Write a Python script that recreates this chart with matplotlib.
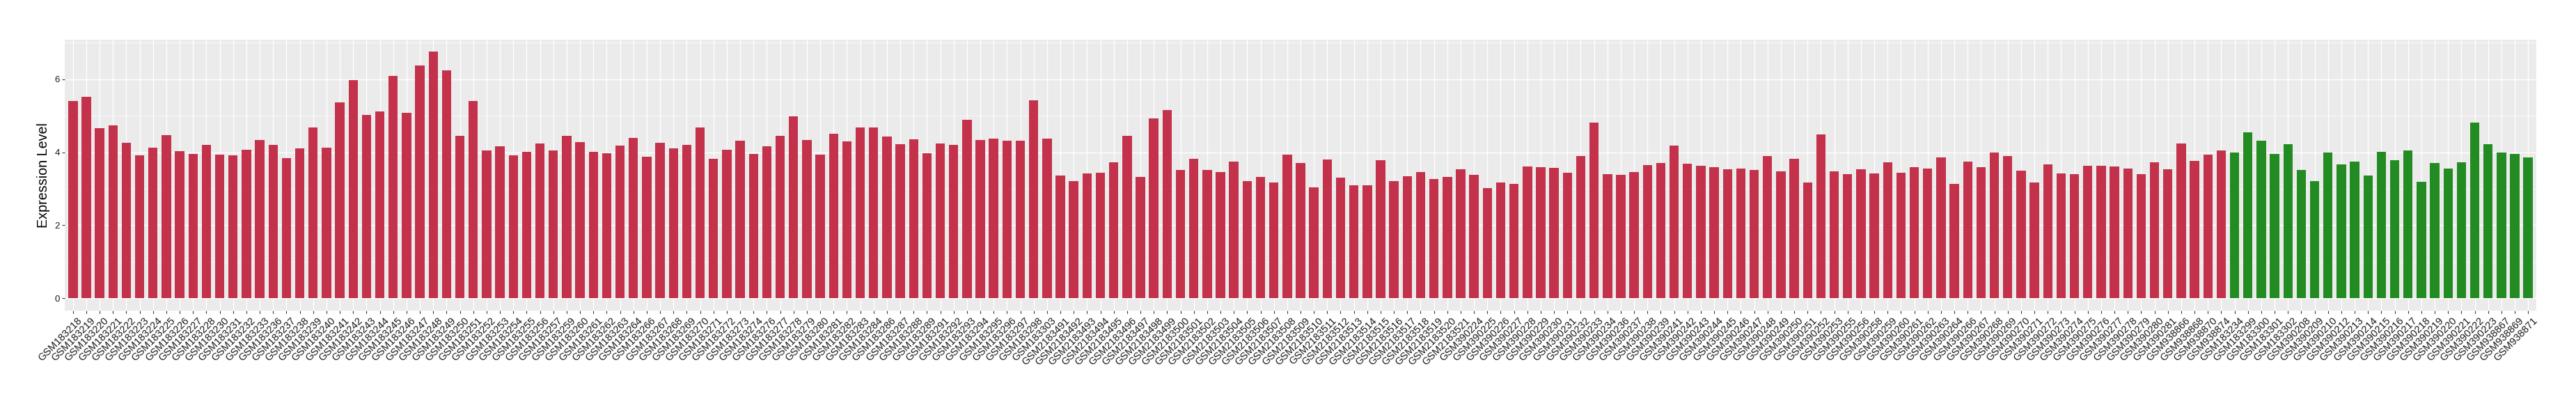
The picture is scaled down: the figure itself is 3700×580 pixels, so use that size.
import matplotlib
matplotlib.use("Agg")
import matplotlib.pyplot as plt
from matplotlib.ticker import MultipleLocator
from matplotlib.transforms import ScaledTranslation

# tumour samples (red) then normal samples (green), in plot order
tumor_ids = [
    "GSM183218", "GSM183219", "GSM183220", "GSM183221", "GSM183222", "GSM183223",
    "GSM183224", "GSM183225", "GSM183226", "GSM183227", "GSM183228", "GSM183230",
    "GSM183231", "GSM183232", "GSM183233", "GSM183236", "GSM183237", "GSM183238",
    "GSM183239", "GSM183240", "GSM183241", "GSM183242", "GSM183243", "GSM183244",
    "GSM183245", "GSM183246", "GSM183247", "GSM183248", "GSM183249", "GSM183250",
    "GSM183251", "GSM183252", "GSM183253", "GSM183254", "GSM183255", "GSM183256",
    "GSM183257", "GSM183259", "GSM183260", "GSM183261", "GSM183262", "GSM183263",
    "GSM183264", "GSM183266", "GSM183267", "GSM183268", "GSM183269", "GSM183270",
    "GSM183271", "GSM183272", "GSM183273", "GSM183274", "GSM183276", "GSM183277",
    "GSM183278", "GSM183279", "GSM183280", "GSM183281", "GSM183282", "GSM183283",
    "GSM183284", "GSM183286", "GSM183287", "GSM183288", "GSM183289", "GSM183291",
    "GSM183292", "GSM183293", "GSM183294", "GSM183295", "GSM183296", "GSM183297",
    "GSM183298", "GSM183303",
    "GSM2183491", "GSM2183492", "GSM2183493", "GSM2183494", "GSM2183495", "GSM2183496",
    "GSM2183497", "GSM2183498", "GSM2183499", "GSM2183500", "GSM2183501", "GSM2183502",
    "GSM2183503", "GSM2183504", "GSM2183505", "GSM2183506", "GSM2183507", "GSM2183508",
    "GSM2183509", "GSM2183510", "GSM2183511", "GSM2183512", "GSM2183513", "GSM2183514",
    "GSM2183515", "GSM2183516", "GSM2183517", "GSM2183518", "GSM2183519", "GSM2183520",
    "GSM2183521",
    "GSM390224", "GSM390225", "GSM390226", "GSM390227", "GSM390228", "GSM390229",
    "GSM390230", "GSM390231", "GSM390232", "GSM390233", "GSM390234", "GSM390236",
    "GSM390237", "GSM390238", "GSM390239", "GSM390241", "GSM390242", "GSM390243",
    "GSM390244", "GSM390245", "GSM390246", "GSM390247", "GSM390248", "GSM390249",
    "GSM390250", "GSM390251", "GSM390252", "GSM390253", "GSM390255", "GSM390256",
    "GSM390258", "GSM390259", "GSM390260", "GSM390261", "GSM390262", "GSM390263",
    "GSM390264", "GSM390266", "GSM390267", "GSM390268", "GSM390269", "GSM390270",
    "GSM390271", "GSM390272", "GSM390273", "GSM390274", "GSM390275", "GSM390276",
    "GSM390277", "GSM390278", "GSM390279", "GSM390280", "GSM390281",
    "GSM938866", "GSM938868", "GSM938870", "GSM938874",
]
tumor_expr = [
    5.40, 5.51, 4.66, 4.73, 4.26, 3.91, 4.12, 4.47, 4.03, 3.95, 4.20, 3.93,
    3.91, 4.07, 4.33, 4.20, 3.84, 4.10, 4.68, 4.12, 5.36, 5.97, 5.02, 5.11,
    6.09, 5.08, 6.37, 6.75, 6.24, 4.45, 5.40, 4.05, 4.16, 3.91, 4.01, 4.24,
    4.05, 4.45, 4.28, 4.01, 3.97, 4.18, 4.39, 3.88, 4.26, 4.10, 4.20, 4.68,
    3.82, 4.07, 4.31, 3.95, 4.16, 4.45, 4.98, 4.33, 3.93, 4.50, 4.30, 4.68,
    4.68, 4.43, 4.22, 4.35, 3.97, 4.24, 4.20, 4.89, 4.33, 4.37, 4.31, 4.31,
    5.42, 4.37,
    3.36, 3.21, 3.42, 3.44, 3.72, 4.45, 3.32, 4.92, 5.15, 3.51, 3.82, 3.51,
    3.46, 3.74, 3.21, 3.32, 3.17, 3.93, 3.70, 3.04, 3.80, 3.30, 3.10, 3.10,
    3.78, 3.21, 3.34, 3.46, 3.27, 3.32, 3.53,
    3.38, 3.02, 3.17, 3.13, 3.61, 3.59, 3.57, 3.44, 3.90, 4.81, 3.40, 3.38,
    3.46, 3.65, 3.70, 4.18, 3.69, 3.63, 3.59, 3.53, 3.55, 3.51, 3.90, 3.48,
    3.82, 3.17, 4.49, 3.48, 3.40, 3.53, 3.42, 3.72, 3.44, 3.59, 3.55, 3.86,
    3.13, 3.74, 3.59, 3.99, 3.90, 3.50, 3.17, 3.67, 3.42, 3.40, 3.63, 3.63,
    3.61, 3.55, 3.40, 3.72, 3.53,
    4.24, 3.76, 3.93, 4.05,
]
normal_ids = [
    "GSM183234", "GSM183299", "GSM183300", "GSM183301", "GSM183302",
    "GSM390208", "GSM390209", "GSM390210", "GSM390212", "GSM390213", "GSM390214",
    "GSM390215", "GSM390216", "GSM390217", "GSM390218", "GSM390219", "GSM390220",
    "GSM390221", "GSM390222", "GSM390223",
    "GSM938867", "GSM938869", "GSM938871",
]
normal_expr = [
    3.99, 4.54, 4.31, 3.95, 4.22,
    3.51, 3.21, 3.99, 3.67, 3.74, 3.36,
    4.01, 3.78, 4.05, 3.19, 3.71, 3.56,
    3.73, 4.81, 4.22,
    3.99, 3.96, 3.86,
]

TUMOR_COLOR = "#C3314A"
NORMAL_COLOR = "#228B22"

plt.rcParams["font.family"] = ["Liberation Sans", "DejaVu Sans"]

W, H = 3700, 580
fig = plt.figure(figsize=(W / 100, H / 100), dpi=100)
# panel box measured in pixels on the reference
left, right, top, bottom = 93.3, 3642.7, 56.7, 446.0
ax = fig.add_axes([left / W, 1 - bottom / H, (right - left) / W, (bottom - top) / H])

ids = tumor_ids + normal_ids
vals = tumor_expr + normal_expr
colors = [TUMOR_COLOR] * len(tumor_ids) + [NORMAL_COLOR] * len(normal_ids)
xs = list(range(len(ids)))

ax.bar(xs, vals, width=0.7, color=colors, zorder=3)

# ggplot-like expansion
ax.set_xlim(-0.6, len(ids) - 0.4)
vmax = max(vals)
ax.set_ylim(-0.05 * vmax, 1.05 * vmax)

ax.set_facecolor("#EBEBEB")
ax.yaxis.set_major_locator(MultipleLocator(2))
ax.yaxis.set_minor_locator(MultipleLocator(1))
ax.grid(which="major", color="white", linewidth=1.0)
ax.grid(which="minor", axis="y", color="white", linewidth=0.5)
ax.set_axisbelow(True)
for s in ax.spines.values():
    s.set_visible(False)

ax.set_xticks(xs)
ax.set_xticklabels(ids, rotation=45, ha="right", rotation_mode="anchor")
ax.tick_params(axis="both", which="major", length=2.9, width=0.8, color="#333333",
               pad=2.4, labelsize=9.5, labelcolor="#1A1A1A")
ax.tick_params(axis="x", which="major", labelsize=10.5)
ax.tick_params(axis="y", which="minor", length=0)

# nudge rotated labels so their top-right end sits just right of the tick
shift = ScaledTranslation(6 / 100, 0, fig.dpi_scale_trans)
for lbl in ax.get_xticklabels():
    lbl.set_transform(lbl.get_transform() + shift)

ax.set_ylabel("Expression Level", fontsize=14.2, labelpad=4.8, color="black")

fig.savefig("out.png", dpi=100)
